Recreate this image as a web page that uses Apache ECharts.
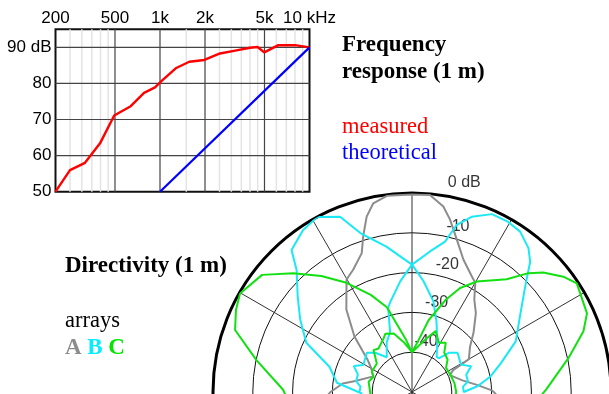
<!DOCTYPE html>
<html>
<head>
<meta charset="utf-8">
<title>Frequency response and directivity</title>
<script src="https://cdn.jsdelivr.net/npm/echarts@6/dist/echarts.min.js"></script>
<style>
  html, body { margin: 0; background: #fff; }
  #chart { width: 609px; height: 394px; }
</style>
</head>
<body>
<div id="chart"></div>
<script>
// frequency response (1 m)
const freqMeasured = [200, 250, 315, 397, 494, 637, 782, 926, 1026, 1274, 1570, 1980, 2520, 3180, 4000, 4500, 4980, 6190, 8000, 10000];
const dbMeasured = [50, 56, 58, 63.4, 71.1, 73.7, 77.4, 78.9, 80.7, 84.2, 86, 86.5, 88.3, 89.1, 89.9, 90.1, 88.6, 90.6, 90.6, 90];
const freqTheory = [1000, 10000];
const dbTheory = [50, 90];
const freqLabels = [200, 500, 1000, 2000, 5000, 10000];
const freqMajor = [500, 1000, 2000, 5000];
const freqMinor = [250, 300, 350, 400, 450, 1500, 2500, 3000, 3500, 4000, 4500, 6000, 7000, 8000, 9000];
const dbGrid = [60, 70, 80, 90];

// directivity (1 m), angle in degrees (0 = on axis), level in dB
const grayAngle = [-96, -90, -83, -79, -68, -60, -54, -46, -38.5, -30.2, -25.7, -19.9, -17.4, -14.5, -11.6, -7.3, 0, 5.2, 9.6, 12.5, 16.4, 21.2, 27.4, 30.1, 34, 39, 46, 52, 60, 61, 62, 66, 77, 84, 89, 96];
const grayDb = [-27.5, -29.5, -32.5, -35.5, -39.5, -38.2, -36.2, -29.9, -23.5, -17.3, -15.9, -12.9, -9, -4.5, -1.6, -0.3, -0.4, -0.3, -2.75, -5.7, -10.1, -14.3, -17.3, -18.3, -22, -24.5, -28.5, -31.5, -33.5, -36, -38.3, -39.6, -37, -33.4, -29.8, -27];

const cyanOuterAngle = [-92, -83, -73, -65, -57, -50, -43.4, -40.3, -34, -28.5, -22.3, -18, -10, 0, 7.3, 12.4, 15, 18.8, 24.2, 29.5, 34, 39, 42.2, 47, 54, 64, 72, 79, 85, 90];
const cyanOuterDb = [-37.5, -31, -28.3, -20.7, -16.5, -12.5, -7.8, -3.2, -1, 0, -2.4, -8, -12.9, -18, -14.4, -11.3, -6.5, -3.5, -1, -0.9, -1.4, -3.5, -5.8, -11.1, -16.3, -21, -26.5, -30, -33.5, -37];
const cyanInnerAngle = [90, 84, 79.4, 72.3, 66.5, 60.8, 49.3, 43.5, 38.4, 35, 27.2, 19.1, 16.3, 13.3, 5.8, 0, -6, -13.3, -15.8, -20, -27, -36, -43, -49, -61, -66, -72, -79, -84, -90];
const cyanInnerDb = [-36.8, -37.1, -35.7, -35.7, -33.8, -35.9, -34.9, -36.4, -39.2, -39.2, -36.1, -31.2, -29.3, -26.6, -21.9, -18, -22, -26.6, -28, -33.9, -36, -39.2, -36.5, -35, -36, -34, -35.7, -35.7, -37, -36.8];

const greenOuterAngle = [-95, -89, -78.4, -70.7, -65, -60.2, -52, -45, -38, -31, -23, -16.5, -7, 0, 7, 13, 19.9, 24.8, 30.4, 40, 44.4, 47.7, 52.7, 56.6, 59.6, 65.8, 70.5, 77.8, 89, 95];
const greenOuterDb = [-19, -17.6, -10.1, -2.9, -1.2, -0.2, -2.2, -7.8, -13, -18, -23.5, -27.8, -36.5, -40, -37, -31.5, -25.5, -21.2, -17.8, -13, -8.2, -5.4, -2.2, -0.4, -1, -1.8, -4.3, -9.8, -16.3, -19];
const greenInnerAngle = [95, 89.6, 78.2, 68.2, 54.6, 47.6, 39.3, 34.4, 28.7, 21.2, 14.4, 0, -9.4, -17.3, -24.5, -28.1, -37.6, -42.6, -46.3, -50.9, -63.3, -68.4, -76.7, -91, -95];
const greenInnerDb = [-39, -38.9, -39.1, -39.4, -39.5, -37.9, -37.2, -35, -35.9, -33.6, -36.3, -40, -37.3, -34.6, -33.9, -34.8, -36.2, -35.7, -37.2, -38.6, -38.7, -39.6, -38.8, -39.5, -39.5];

const ringTicks = [0, -10, -20, -30, -40];
const ringLabels = ['0 dB', '-10', '-20', '-30', '-40'];

const serif = 'Liberation Serif';
const sans = 'Liberation Sans';

function pairs(xs, ys) {
    return xs.map((x, i) => [x, ys[i]]);
}
// polar data is [radius, angle]
function polarPts(angles, dbs) {
    return angles.map((a, i) => [dbs[i], a]);
}

const chart = echarts.init(document.getElementById('chart'));

const gridSeries = [];
freqMinor.forEach(f => gridSeries.push({
    type: 'line', silent: true, symbol: 'none',
    data: [[f, 50], [f, 95]],
    lineStyle: { color: '#e4e4e4', width: 1.5 }
}));
dbGrid.forEach(v => gridSeries.push({
    type: 'line', silent: true, symbol: 'none',
    data: [[200, v], [10000, v]],
    lineStyle: { color: '#444', width: 1.2 }
}));
freqMajor.forEach(f => gridSeries.push({
    type: 'line', silent: true, symbol: 'none',
    data: [[f, 50], [f, 95]],
    lineStyle: { color: '#444', width: 1.2 }
}));

const polarLine = (data, color) => ({
    type: 'line',
    coordinateSystem: 'polar',
    symbol: 'none',
    silent: true,
    data: data,
    lineStyle: { color: color, width: 2 }
});

const plain = { fontFamily: serif, fontWeight: 'normal', fontSize: 22.5, lineHeight: 26 };
const bold = { fontFamily: serif, fontWeight: 'bold', fontSize: 23, lineHeight: 27 };

const option = {
    animation: false,
    title: [
        {
            text: 'Frequency\nresponse (1 m)', left: 342, top: 32, padding: 0,
            textStyle: Object.assign({ color: '#000' }, bold)
        },
        {
            text: '{r|measured}\n{b|theoretical}', left: 342, top: 114, padding: 0,
            textStyle: Object.assign({}, plain, {
                rich: {
                    r: Object.assign({ color: '#ff0000' }, plain),
                    b: Object.assign({ color: '#0000ff' }, plain)
                }
            })
        },
        {
            text: 'Directivity (1 m)', left: 65, top: 253, padding: 0,
            textStyle: Object.assign({ color: '#000' }, bold)
        },
        {
            text: '{n|arrays}\n{a|A} {b|B} {c|C}', left: 65, top: 308, padding: 0,
            textStyle: Object.assign({}, plain, {
                rich: {
                    n: Object.assign({ color: '#000' }, plain, { lineHeight: 27 }),
                    a: Object.assign({ color: '#8c8c8c' }, bold),
                    b: Object.assign({ color: '#00eeff' }, bold),
                    c: Object.assign({ color: '#00e600' }, bold)
                }
            })
        }
    ],
    grid: {
        left: 55.5, right: 299.5, top: 29.3, bottom: 202.3,
        show: true, borderColor: '#111', borderWidth: 2, backgroundColor: 'transparent'
    },
    xAxis: {
        type: 'log', logBase: 10, min: 200, max: 10000, position: 'top',
        axisLine: { show: false }, axisTick: { show: false }, splitLine: { show: false },
        axisLabel: {
            customValues: freqLabels,
            margin: 2,
            fontFamily: sans, fontSize: 17, color: '#000',
            formatter: v => v === 10000 ? '10 kHz' : (v >= 1000 ? (v / 1000) + 'k' : String(v))
        }
    },
    yAxis: {
        type: 'value', min: 50, max: 95, interval: 10,
        axisLine: { show: false }, axisTick: { show: false }, splitLine: { show: false },
        axisLabel: {
            margin: 4,
            fontFamily: sans, fontSize: 17, color: '#000',
            formatter: v => v === 90 ? '90 dB' : (v % 10 === 0 ? String(v) : '')
        }
    },
    polar: { center: [412, 392], radius: 199 },
    angleAxis: {
        type: 'value', min: -180, max: 180, interval: 30, startAngle: 270, clockwise: true,
        axisLine: { lineStyle: { color: '#000', width: 3 } },
        axisTick: { show: false }, axisLabel: { show: false },
        splitLine: { lineStyle: { color: ['#333', '#333', '#333', 'rgba(0,0,0,0)', '#333', '#333'], width: 1 } }
    },
    radiusAxis: {
        type: 'value', min: -50, max: 0, interval: 10,
        axisLine: { show: false }, axisTick: { show: false }, axisLabel: { show: false },
        splitLine: { lineStyle: { color: '#111', width: 1 } }
    },
    series: [
        ...gridSeries,
        {
            type: 'line', name: 'measured', symbol: 'none', silent: true,
            data: pairs(freqMeasured, dbMeasured),
            lineStyle: { color: '#ff0000', width: 2.4 }
        },
        {
            type: 'line', name: 'theoretical', symbol: 'none', silent: true,
            data: pairs(freqTheory, dbTheory),
            lineStyle: { color: '#0000ff', width: 2.2 }
        },
        polarLine(polarPts(grayAngle, grayDb), '#8c8c8c'),
        polarLine(polarPts(cyanOuterAngle, cyanOuterDb).concat(polarPts(cyanInnerAngle, cyanInnerDb)), '#19e8f5'),
        polarLine(polarPts(greenOuterAngle, greenOuterDb).concat(polarPts(greenInnerAngle, greenInnerDb)), '#11e011'),
        {
            type: 'scatter', coordinateSystem: 'polar', symbolSize: 0, silent: true, clip: false,
            data: ringTicks.map((t, i) => ({ value: [t + (t === 0 ? 4.3 : 3.2), t === 0 ? 14 : 15.5], name: ringLabels[i] })),
            label: {
                show: true, position: 'inside', formatter: p => p.name,
                fontFamily: sans, fontSize: 16, color: '#000'
            }
        }
    ]
};

chart.setOption(option);
</script>
</body>
</html>
